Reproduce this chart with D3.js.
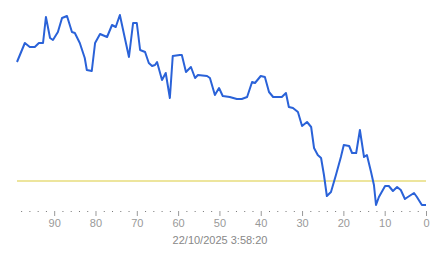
<!DOCTYPE html>
<html>
<head>
<meta charset="utf-8">
<script src="https://cdn.jsdelivr.net/npm/d3@7"></script>
<style>
  html, body { margin: 0; padding: 0; background: #fff; }
  text { font-family: "Liberation Sans", Arial, sans-serif; }
</style>
</head>
<body>
<div id="chart"></div>
<script>
// seconds ago (x) and reading (y)
var secondsAgo = [99, 97.1, 95.9, 94.7, 93.7, 92.7, 92, 91, 90.3, 89.1, 88.1, 86.9, 85.7, 85, 83.8, 82.6, 82.1, 80.9, 80.1, 78.9,
    77.2, 76, 75.1, 74.1, 72.9, 71.9, 70.9, 70, 69.2, 68, 67.1, 66.3, 65.6, 65.1, 63.9, 63, 62, 61.3, 59.6, 59.1,
    58.1, 56.9, 55.9, 55.2, 53, 52.3, 51.1, 50.1, 49.2, 47.5, 45.8, 44.6, 43.3, 42.1, 41.4, 40, 39, 38, 37, 34.9,
    33.9, 33.2, 32.2, 31, 30, 28.8, 27.8, 27.1, 26.2, 25.4, 24.7, 24, 23, 21.8, 20.6, 19.9, 18.6, 17.9, 16.9, 16,
    15, 14.3, 13.3, 12.6, 12.1, 11.4, 9.9, 9, 8, 7, 6.1, 5.1, 4.4, 2.9, 2.2, 1, 0];
var readings = [74, 83.5, 81.5, 81.5, 83.5, 83.5, 96.5, 86, 85, 89, 96, 97, 89, 88.5, 83.5, 76, 70, 69.5, 83.5, 88,
    86.5, 92.5, 91.5, 97.5, 86, 76.5, 93.5, 93.5, 80, 79, 73.5, 72, 72.5, 74, 65, 68.5, 56, 77, 77.5, 77.5,
    69, 71.5, 66, 67.5, 67, 66, 57.5, 61, 57, 56.5, 55.5, 55.5, 56.5, 64, 63.5, 67, 66.5, 59, 56.5, 56.5,
    58.5, 51.5, 51, 49, 42, 44, 41.5, 31, 27.5, 26, 17.5, 7, 9, 17.5, 26.5, 32.5, 32, 28.5, 28.5, 40,
    26.5, 27.5, 19, 12.5, 2.5, 6.5, 12, 12, 9.5, 11.5, 10, 5.5, 6.5, 8.5, 6.5, 2.5, 2.5];
// reference level
var threshold = [14.5];
// axis ticks
var majorTicks = [90, 80, 70, 60, 50, 40, 30, 20, 10, 0];
var minorTicks = [98, 96, 94, 92, 88, 86, 84, 82, 78, 76, 74, 72, 68, 66, 64, 62, 58, 56, 54, 52,
    48, 46, 44, 42, 38, 36, 34, 32, 28, 26, 24, 22, 18, 16, 14, 12, 8, 6, 4, 2];
var timeLabel = '22/10/2025 3:58:20';

var width = 443, height = 258;
var axisY = 211;

var svg = d3.select('#chart')
    .append('svg')
    .attr('width', width)
    .attr('height', height);

var x = d3.scaleLinear().domain([99, 0]).range([17, 426]);
var y = d3.scaleLinear().domain([0, 100]).range([210, 10]);

var data = secondsAgo.map(function (s, i) {
    return { s: s, v: readings[i] };
});

// threshold line
svg.selectAll('line.threshold')
    .data(threshold)
    .enter()
    .append('line')
    .attr('class', 'threshold')
    .attr('x1', x(99))
    .attr('x2', x(0))
    .attr('y1', function (d) { return y(d); })
    .attr('y2', function (d) { return y(d); })
    .style('stroke', '#dccb3c')
    .style('stroke-width', 1.2);

// minor ticks (dots)
var minorAxis = svg.append('g')
    .attr('transform', 'translate(0,' + axisY + ')')
    .call(d3.axisBottom(x).tickValues(minorTicks).tickSize(1).tickFormat(''));
minorAxis.select('.domain').remove();
minorAxis.selectAll('line').style('stroke', '#777');

// major ticks + labels
var majorAxis = svg.append('g')
    .attr('transform', 'translate(0,' + axisY + ')')
    .call(d3.axisBottom(x).tickValues(majorTicks).tickSize(5).tickPadding(3));
majorAxis.select('.domain').remove();
majorAxis.selectAll('line').style('stroke', '#999');
majorAxis.selectAll('text')
    .style('fill', '#999')
    .style('font-size', '11px')
    .style('font-family', '"Liberation Sans", Arial, sans-serif');

// time caption
svg.append('text')
    .attr('x', 220)
    .attr('y', 244)
    .attr('text-anchor', 'middle')
    .style('fill', '#888')
    .style('font-size', '11px')
    .text(timeLabel);

// data line
var line = d3.line()
    .x(function (d) { return x(d.s); })
    .y(function (d) { return y(d.v); });

svg.append('path')
    .datum(data)
    .attr('d', line)
    .style('fill', 'none')
    .style('stroke', '#2a62d8')
    .style('stroke-width', 2)
    .style('stroke-linejoin', 'round');
</script>
</body>
</html>
